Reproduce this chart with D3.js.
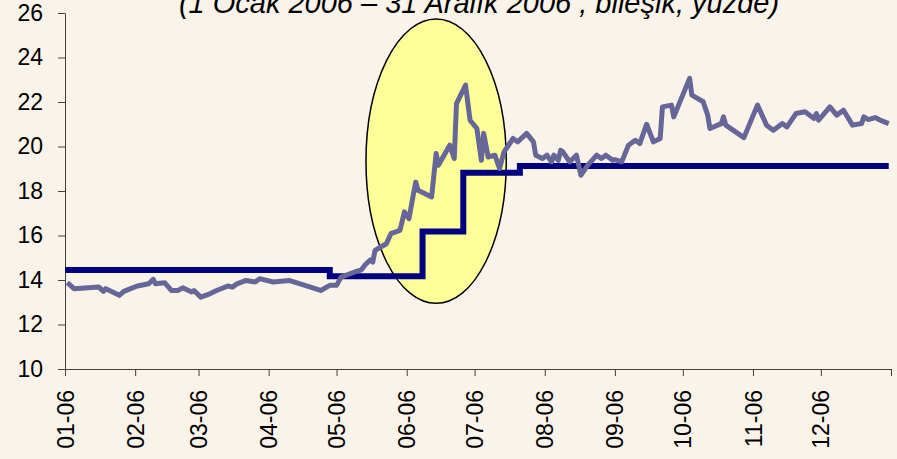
<!DOCTYPE html>
<html>
<head>
<meta charset="utf-8">
<script src="https://cdn.jsdelivr.net/npm/d3@7"></script>
<style>
  html, body { margin: 0; padding: 0; background: #f9f3e9; }
  svg { display: block; font-family: "Liberation Sans", Arial, sans-serif; }
</style>
</head>
<body>
<div id="chart"></div>
<script>
var title = "(1 Ocak 2006 – 31 Aralık 2006 , bileşik, yüzde)"

// piyasa faizi (günlük, bileşik)
var marketDates = [
  "2006-01-02","2006-01-05","2006-01-16","2006-01-18","2006-01-19","2006-01-25","2006-01-27","2006-01-30",
  "2006-02-02","2006-02-07","2006-02-09","2006-02-10","2006-02-14","2006-02-17","2006-02-20","2006-02-22",
  "2006-02-26","2006-02-27","2006-03-02","2006-03-06","2006-03-09","2006-03-14","2006-03-16","2006-03-18",
  "2006-03-22","2006-03-26","2006-03-28","2006-04-03","2006-04-10","2006-04-17","2006-04-24","2006-04-28",
  "2006-05-01","2006-05-03","2006-05-09","2006-05-12","2006-05-14","2006-05-16","2006-05-17","2006-05-18",
  "2006-05-23","2006-05-25","2006-05-29","2006-05-31","2006-06-02","2006-06-04","2006-06-05","2006-06-06",
  "2006-06-12","2006-06-14","2006-06-15","2006-06-20","2006-06-22","2006-06-23","2006-06-27","2006-06-29",
  "2006-07-02","2006-07-04","2006-07-05","2006-07-07","2006-07-10","2006-07-12","2006-07-14","2006-07-18",
  "2006-07-20","2006-07-24","2006-07-27","2006-07-28","2006-07-31","2006-08-02","2006-08-04","2006-08-05",
  "2006-08-07","2006-08-08","2006-08-09","2006-08-12","2006-08-15","2006-08-17","2006-08-20","2006-08-24",
  "2006-08-26","2006-08-28","2006-08-31","2006-09-01","2006-09-04","2006-09-07","2006-09-10","2006-09-12",
  "2006-09-15","2006-09-18","2006-09-21","2006-09-22","2006-09-26","2006-09-27","2006-10-04","2006-10-05",
  "2006-10-10","2006-10-12","2006-10-13","2006-10-18","2006-10-19","2006-10-20","2006-10-28","2006-11-03",
  "2006-11-07","2006-11-10","2006-11-14","2006-11-16","2006-11-20","2006-11-24","2006-11-28","2006-11-29",
  "2006-11-30","2006-12-05","2006-12-08","2006-12-11","2006-12-15","2006-12-19","2006-12-20","2006-12-22",
  "2006-12-25","2006-12-28","2006-12-31"
]
var marketValues = [
  13.88,13.61,13.68,13.49,13.61,13.31,13.49,13.61,
  13.73,13.83,14.03,13.83,13.88,13.53,13.53,13.65,
  13.46,13.53,13.23,13.38,13.53,13.73,13.68,13.83,
  13.98,13.91,14.06,13.91,13.98,13.76,13.53,13.76,
  13.76,14.13,14.36,14.46,14.73,14.91,14.81,15.33,
  15.63,16.08,16.23,17.06,16.76,17.88,18.40,18.03,
  17.73,19.69,19.16,20.06,19.46,21.93,22.76,21.18,
  20.81,19.38,20.59,19.53,19.61,19.01,19.76,20.36,
  20.21,20.59,20.21,19.61,19.46,19.61,19.31,19.61,
  19.38,19.83,19.76,19.31,19.61,18.71,19.16,19.61,
  19.46,19.61,19.38,19.41,19.31,20.06,20.28,20.13,
  21.00,20.21,20.36,21.78,21.86,21.33,23.06,22.31,
  22.01,21.41,20.81,21.03,21.33,20.96,20.40,21.86,
  20.96,20.73,21.03,20.88,21.48,21.56,21.26,21.48,
  21.18,21.78,21.41,21.63,20.96,21.03,21.33,21.21,
  21.30,21.15,21.03
]

// TCMB borçlanma faizi (bileşik)
var policyDates = ["2006-01-01","2006-04-28","2006-06-08","2006-06-26","2006-07-21","2006-12-31"]
var policyValues = [14.45, 14.17, 16.18, 18.82, 19.12, 19.12]

var yTicks = [10, 12, 14, 16, 18, 20, 22, 24, 26]
var monthTicks = ["2006-01-01","2006-02-01","2006-03-01","2006-04-01","2006-05-01","2006-06-01",
  "2006-07-01","2006-08-01","2006-09-01","2006-10-01","2006-11-01","2006-12-01","2007-01-01"]

// vurgulanan bölge (elips sınırları)
var highlightDates = ["2006-05-14", "2006-07-15"]
var highlightValues = [12.95, 25.73]

var width = 897, height = 459
var parse = d3.timeParse("%Y-%m-%d")

var svg = d3.select("#chart").append("svg")
    .attr("width", width)
    .attr("height", height)

svg.append("rect")
  .attr("width", width).attr("height", height)
  .attr("fill", "#f9f3e9")

var x = d3.scaleTime()
  .domain([parse("2006-01-01"), parse("2007-01-01")])
  .range([65, 891])

var y = d3.scaleLinear()
  .domain([10, 26])
  .range([369, 13])

var market = marketDates.map(function(d, i) { return { date: parse(d), value: marketValues[i] } })
var policy = policyDates.map(function(d, i) { return { date: parse(d), value: policyValues[i] } })

// elips
var ex0 = x(parse(highlightDates[0])), ex1 = x(parse(highlightDates[1]))
var ey0 = y(highlightValues[1]), ey1 = y(highlightValues[0])
svg.append("ellipse")
  .attr("cx", (ex0 + ex1) / 2)
  .attr("cy", (ey0 + ey1) / 2)
  .attr("rx", (ex1 - ex0) / 2)
  .attr("ry", (ey1 - ey0) / 2)
  .attr("fill", "#ffff99")
  .attr("stroke", "#000")
  .attr("stroke-width", 1.5)

// eksenler
var yAxis = svg.append("g")
  .attr("transform", "translate(65,0)")
  .call(d3.axisLeft(y).tickValues(yTicks).tickSize(7).tickSizeOuter(0).tickPadding(15))
yAxis.select(".domain").attr("stroke", "#404040")
yAxis.selectAll(".tick line").attr("stroke", "#404040")
yAxis.selectAll("text")
  .style("font-size", "23px")
  .attr("fill", "#000")

var xAxis = svg.append("g")
  .attr("transform", "translate(0," + y(10) + ")")
  .call(d3.axisBottom(x)
    .tickValues(monthTicks.map(parse))
    .tickSize(7)
    .tickSizeOuter(0)
    .tickFormat(function(d, i) { return i === monthTicks.length - 1 ? "" : d3.timeFormat("%m-%y")(d) }))
xAxis.select(".domain").attr("stroke", "#404040")
xAxis.selectAll(".tick line").attr("stroke", "#404040")
xAxis.selectAll("text")
  .style("font-size", "23px")
  .attr("fill", "#000")
  .attr("text-anchor", "end")
  .attr("transform", "rotate(-90)")
  .attr("x", -21)
  .attr("y", 0)
  .attr("dy", "0.35em")

// çizgiler
var policyLine = d3.line()
  .x(function(d) { return x(d.date) })
  .y(function(d) { return y(d.value) })
  .curve(d3.curveStepAfter)

var marketLine = d3.line()
  .x(function(d) { return x(d.date) })
  .y(function(d) { return y(d.value) })

svg.append("path")
  .datum(policy)
  .attr("d", policyLine)
  .attr("fill", "none")
  .attr("stroke", "#000080")
  .attr("stroke-width", 6)

svg.append("path")
  .datum(market)
  .attr("d", marketLine)
  .attr("fill", "none")
  .attr("stroke", "#666699")
  .attr("stroke-width", 5)
  .attr("stroke-linejoin", "round")

// başlık
svg.append("text")
  .attr("x", 479)
  .attr("y", 13)
  .attr("text-anchor", "middle")
  .style("font-size", "29px")
  .style("font-style", "italic")
  .attr("fill", "#000")
  .text(title)
</script>
</body>
</html>
